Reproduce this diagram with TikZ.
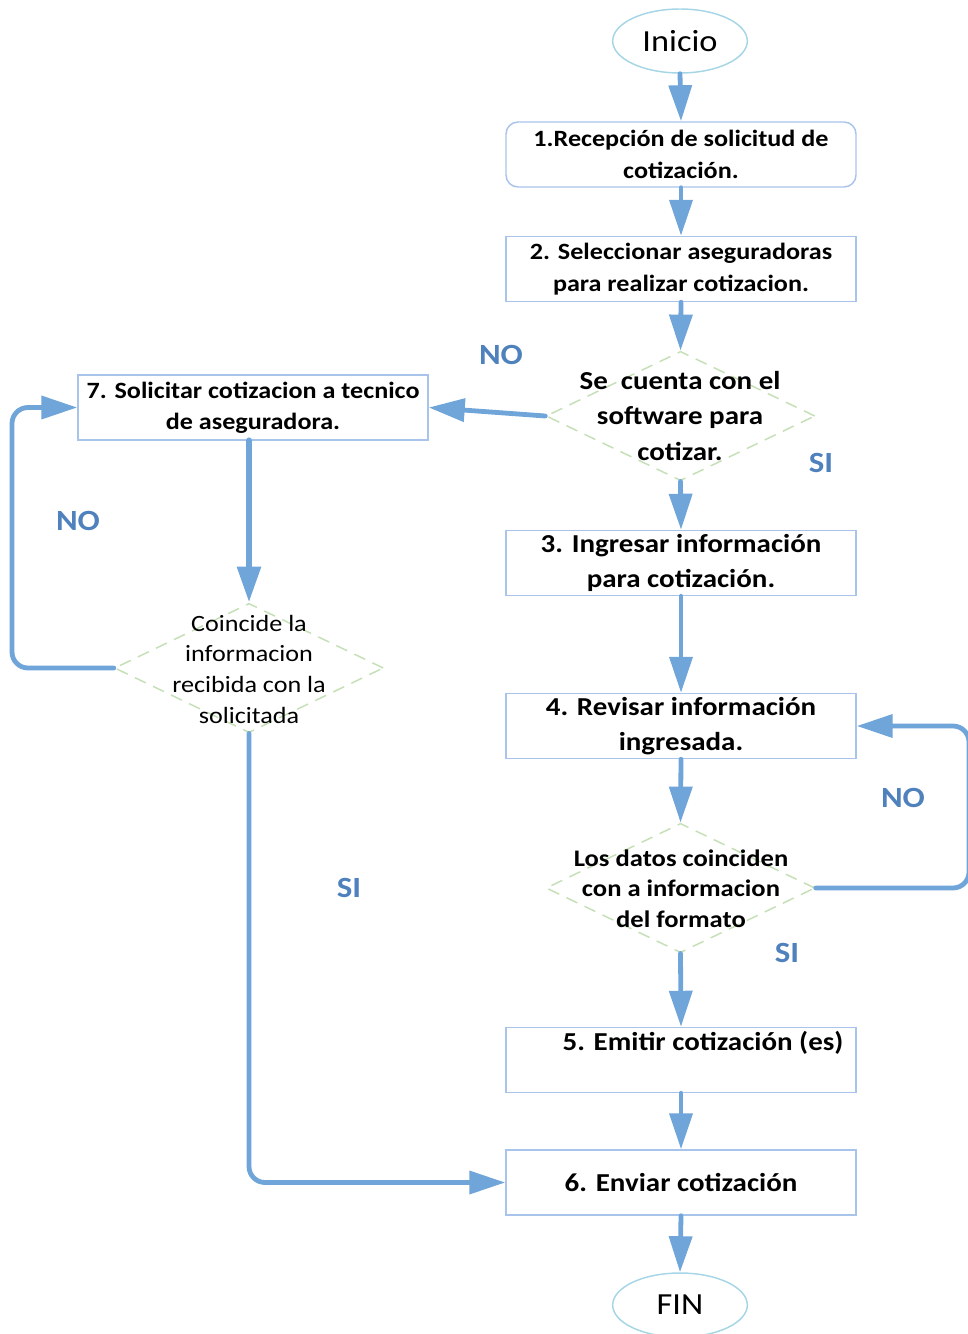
\documentclass[tikz,border=0pt]{standalone}
\usepackage{fontspec}
\setmainfont{Carlito}[FakeStretch=1.12]
\usetikzlibrary{arrows.meta,shapes.geometric}
\definecolor{flow}{HTML}{6FA5D9}
\definecolor{boxedge}{HTML}{A9C4EB}
\definecolor{termedge}{HTML}{A6D6E6}
\definecolor{decedge}{HTML}{C5DFB6}
\definecolor{answer}{HTML}{4F81BD}
\begin{document}
\begin{tikzpicture}[x=0.75pt,y=-0.75pt,
  procbox/.style={draw=boxedge, line width=1.1pt, fill=white,
    minimum width=262.5pt, minimum height=48.75pt, inner sep=0pt,
    align=center, font=\bfseries\fontsize{17.5}{23.5}\selectfont},
  bigtext/.style={font=\bfseries\fontsize{19.4}{26}\selectfont},
  terminal/.style={ellipse, draw=termedge, line width=1.1pt, fill=white,
    minimum width=101pt, minimum height=48pt, inner sep=0pt,
    font=\fontsize{23}{28}\selectfont},
  decision/.style={diamond, draw=decedge, line width=1.1pt, fill=white,
    dash pattern=on 9pt off 6pt, inner sep=0pt,
    minimum width=201.75pt, minimum height=97pt},
  dectext/.style={align=center, inner sep=0pt, font=\bfseries\fontsize{17.5}{25}\selectfont},
  answerlbl/.style={text=answer, font=\bfseries\fontsize{22}{26}\selectfont, inner sep=0pt},
  flowarrow/.style={draw=flow, line width=3.6pt, line cap=round,
    -{Triangle[length=27pt,width=17pt]}},
]
\useasboundingbox (0,0) rectangle (967,1334);

% terminals
\node[terminal] (inicio) at (680,41) {Inicio};
\node[terminal] (fin) at (680,1305) {FIN};

% process steps
\node[procbox, rounded corners=9pt] (b1) at (681,154.5)
  {1.Recepción de solicitud de\\cotización.};
\node[procbox] (b2) at (681,269) {2. Seleccionar aseguradoras\\para realizar cotizacion.};
\node[procbox, bigtext] (b3) at (681,563)
  {3. Ingresar información\\para cotización.};
\node[procbox, bigtext] (b4) at (681,726)
  {4. Revisar información\\ingresada.};
\node[procbox] (b5) at (681,1060) {};
\node[bigtext, inner sep=0pt] (b5t) at (703,1043)
  {5. Emitir cotización (es)};
\node[procbox, bigtext] (b6) at (681,1182.5) {6. Enviar cotización};
\node[procbox] (b7) at (253,407.5) {7. Solicitar cotizacion a tecnico\\de aseguradora.};

% decisions
\node[decision] (d1) at (680.5,416) {};
\node[dectext, font=\bfseries\fontsize{19.4}{26.5}\selectfont] (d1t) at (680,416)
  {Se\ \ cuenta con el\\software para\\cotizar.};
\node[decision] (d2) at (249,668) {};
\node[dectext, font=\fontsize{17.5}{23}\selectfont] (d2t) at (249,669)
  {Coincide la\\informacion\\recibida con la\\solicitada};
\node[decision] (d3) at (680.5,888) {};
\node[dectext, font=\bfseries\fontsize{17.8}{23}\selectfont] (d3t) at (681,888.5)
  {Los datos coinciden\\con a informacion\\del formato};

% corner points of the return loops
\coordinate (loopL) at (12,407.5);
\coordinate (loopR) at (969,726);

% main flow
\draw[flowarrow] (inicio.south) -- (b1.north);
\draw[flowarrow] (b1.south) -- (b2.north);
\draw[flowarrow] (b2.south) -- (d1.north);
\draw[flowarrow] (d1.south) -- (b3.north);
\draw[flowarrow] (d1.west) -- (b7.east);
\draw[flowarrow, line width=5pt] (d2.north |- b7.south) -- (d2.north);
\draw[flowarrow, rounded corners=12pt] (d2.west) -| (loopL) -- (b7.west);
\draw[flowarrow, rounded corners=12pt] (d2.south) |- (b6.west);
\draw[flowarrow] (b3.south) -- (b4.north);
\draw[flowarrow] (b4.south) -- (d3.north);
\draw[flowarrow, rounded corners=12pt] (d3.east) -| (loopR) -- (b4.east);
\draw[flowarrow] (d3.south) -- (b5.north);
\draw[flowarrow] (b5.south) -- (b6.north);
\draw[flowarrow] (b6.south) -- (fin.north);

% answers
\node[answerlbl] (no1) at (501,355) {NO};
\node[answerlbl] (si1) at (821,463) {SI};
\node[answerlbl] (no2) at (78,521) {NO};
\node[answerlbl] (si2) at (349,888) {SI};
\node[answerlbl] (no3) at (903,798) {NO};
\node[answerlbl] (si3) at (787,953) {SI};
\end{tikzpicture}
\end{document}
